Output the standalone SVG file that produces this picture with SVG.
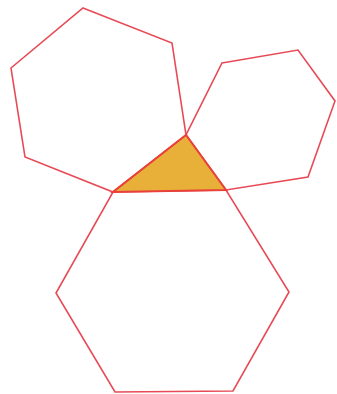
<svg xmlns="http://www.w3.org/2000/svg" width="337" height="394" viewBox="0 0 337 394">
<style>
.hex{fill:none;stroke:#e84a55;stroke-width:1.6;stroke-linejoin:miter}
.tri{fill:#e8b038;stroke:#e8403a;stroke-width:2;stroke-linejoin:miter}
</style>
<rect width="337" height="394" fill="#ffffff"/>
<g id="hex-top-left"><polygon class="hex" points="83,8 172,43 186,135 113,192 25,157 11,68"/></g>
<g id="hex-right"><polygon class="hex" points="222,63 298,50 335,101 308,177 226,190 186,135"/></g>
<g id="hex-bottom"><polygon class="hex" points="113,192 226,190 289,292 233,391 115,392 56,293"/></g>
<g id="triangle"><polygon class="tri" points="186,135 113,192 226,190"/></g>
</svg>
